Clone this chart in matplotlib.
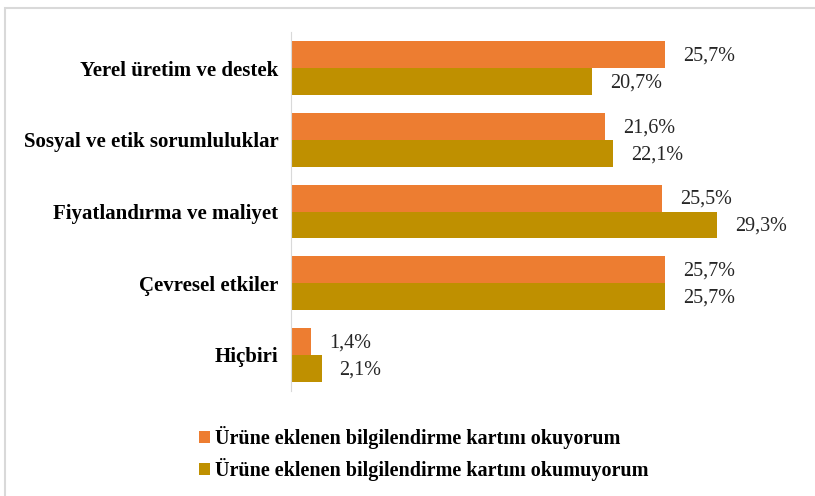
import matplotlib.pyplot as plt
from matplotlib.patches import Rectangle
import numpy as np

plt.rcParams['font.family'] = ['Liberation Serif', 'DejaVu Serif']

categories = ['Yerel üretim ve destek', 'Sosyal ve etik sorumluluklar',
              'Fiyatlandırma ve maliyet', 'Çevresel etkiler', 'Hiçbiri']
okuyorum = [25.7, 21.6, 25.5, 25.7, 1.4]
okumuyorum = [20.7, 22.1, 29.3, 25.7, 2.1]
series_names = ['Ürüne eklenen bilgilendirme kartını okuyorum',
                'Ürüne eklenen bilgilendirme kartını okumuyorum']
colors = ['#ED7D31', '#BF9000']

fig = plt.figure(figsize=(8.15, 4.96), dpi=100)
ax = fig.add_axes([0.357, 0.212, 0.625, 0.723])

y = np.arange(len(categories))
h = 0.375
b1 = ax.barh(y - h / 2, okuyorum, height=h, color=colors[0], label=series_names[0])
b2 = ax.barh(y + h / 2, okumuyorum, height=h, color=colors[1], label=series_names[1])

for bars, vals in [(b1, okuyorum), (b2, okumuyorum)]:
    for bar, v in zip(bars, vals):
        ax.annotate(f'{v:.1f}%'.replace('.', ','),
                    xy=(bar.get_width(), bar.get_y() + bar.get_height() / 2),
                    xytext=(13, -1), textcoords='offset points',
                    va='center', ha='left', fontsize=14.5, color='#262626')

ax.set_xlim(0, 35)
ax.set_ylim(len(categories) - 0.5, -0.5)
ax.set_yticks(y)
ax.set_yticklabels(categories, fontsize=15, fontweight='bold')
ax.tick_params(axis='y', length=0, pad=9)
ax.set_xticks([])
for s in ['top', 'right', 'bottom']:
    ax.spines[s].set_visible(False)
ax.spines['left'].set_color('#d9d9d9')

fig.legend(handles=[b1, b2], loc='upper left', bbox_to_anchor=(0.222, 0.178),
           frameon=False, prop={'weight': 'bold', 'size': 14.5},
           handlelength=0.55, handleheight=0.55, handletextpad=0.25, labelspacing=0.45)

fig.patches.append(Rectangle((0.006, -0.05), 1.1, 1.034, transform=fig.transFigure,
                             fill=False, edgecolor='#d9d9d9', linewidth=1.5))

fig.savefig('out.png', dpi=100)
